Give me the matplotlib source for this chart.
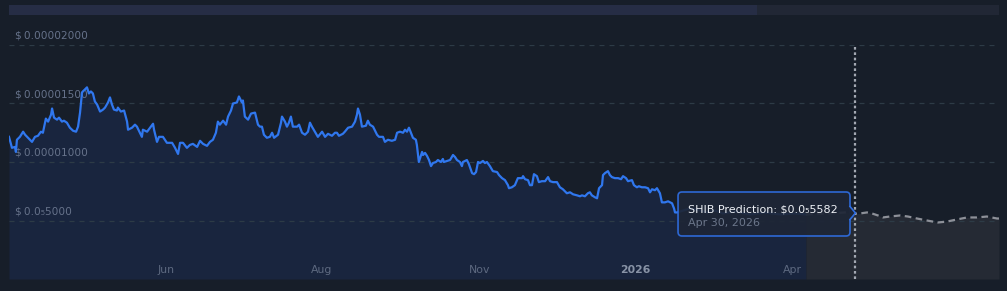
import matplotlib
matplotlib.use("Agg")
import matplotlib.pyplot as plt
from matplotlib.patches import FancyBboxPatch, Polygon

# SHIB price history (days from start, price in 1e-6 USD)
hist_day = [0.0, 1.2, 2.4, 2.8, 3.2, 4.4, 5.7, 6.5, 7.7, 9.3, 10.5, 11.7, 12.9, 13.7, 14.9, 15.8,
            17.0, 17.4, 18.2, 19.4, 20.2, 21.4, 22.2, 23.4, 24.6, 25.9, 27.1, 27.9, 28.7, 29.5,
            30.7, 31.5, 32.3, 33.1, 33.9, 34.7, 35.6, 36.8, 38.0, 38.8, 40.0, 40.8, 41.6, 42.4,
            43.6, 44.0, 45.2, 46.5, 47.7, 48.1, 49.7, 50.9, 51.7, 52.9, 53.7, 54.1, 55.8, 57.0,
            58.2, 58.6, 59.8, 60.6, 62.2, 63.8, 65.9, 67.1, 68.3, 69.1, 70.3, 71.9, 73.1, 74.3,
            76.0, 77.2, 78.4, 80.0, 81.2, 82.4, 83.6, 84.4, 85.2, 86.5, 87.7, 88.5, 89.7, 90.5,
            92.1, 92.9, 94.1, 94.5, 95.3, 96.6, 97.8, 99.4, 100.6, 101.4, 102.2, 103.0, 104.2,
            105.4, 106.3, 107.1, 108.7, 109.9, 110.3, 111.5, 112.3, 113.1, 113.9, 114.7, 116.4,
            117.2, 118.4, 119.6, 120.8, 121.6, 122.4, 123.6, 124.8, 126.5, 127.7, 128.9, 130.5,
            131.7, 132.5, 133.3, 134.9, 135.7, 137.0, 138.6, 139.8, 140.6, 141.0, 141.8, 142.6,
            144.2, 145.0, 145.8, 147.1, 148.7, 149.5, 151.1, 151.9, 153.1, 154.7, 156.0, 156.8,
            158.0, 159.2, 160.0, 160.8, 161.6, 162.4, 163.2, 164.4, 164.8, 165.6, 166.9, 167.3,
            168.1, 168.9, 169.7, 170.5, 171.3, 172.5, 173.3, 174.5, 175.3, 175.7, 177.0, 178.2,
            179.4, 180.2, 181.0, 182.2, 183.0, 183.4, 185.0, 185.8, 187.1, 187.9, 188.7, 189.5,
            190.3, 191.5, 192.3, 193.1, 194.3, 195.5, 197.2, 198.0, 199.2, 200.4, 201.6, 202.0,
            203.2, 204.4, 205.6, 207.3, 207.7, 208.5, 209.7, 210.5, 211.3, 212.1, 213.3, 214.1,
            215.3, 216.6, 217.8, 218.6, 219.8, 221.4, 222.6, 223.8, 225.4, 226.7, 227.9, 229.5,
            230.7, 231.5, 232.7, 233.9, 234.7, 235.5, 236.8, 237.6, 238.4, 239.6, 240.0, 240.8,
            242.0, 242.8, 243.6, 244.8, 246.1, 247.3, 248.1, 249.3, 250.1, 251.7, 252.5, 253.7,
            254.5, 255.7, 257.0, 258.2, 259.0, 259.8, 261.0, 261.8, 263.0, 263.8, 265.0, 266.3,
            267.9, 268.7, 269.1, 269.9, 275.1, 279.2, 282.0, 285.2, 288.5, 293.3, 299.4, 305.4,
            311.5, 317.6, 322.0]
hist_val = [12.15, 11.21, 11.29, 10.86, 11.90, 12.15, 12.59, 12.33, 12.07, 11.72, 12.15, 12.24,
            12.59, 12.50, 13.71, 13.45, 14.05, 14.57, 13.79, 13.62, 13.79, 13.45, 13.53, 13.36,
            12.93, 12.67, 12.59, 13.02, 14.22, 15.95, 16.21, 16.38, 15.86, 16.03, 15.86, 15.17,
            14.91, 14.31, 14.48, 14.65, 15.09, 15.52, 14.91, 14.48, 14.40, 14.65, 14.31, 14.40,
            13.45, 12.76, 12.93, 13.19, 13.02, 12.50, 12.15, 12.76, 12.59, 12.93, 13.27, 12.76,
            11.72, 12.15, 12.15, 11.64, 11.64, 11.21, 10.69, 11.64, 11.64, 11.21, 11.46, 11.55,
            11.29, 11.81, 11.55, 11.38, 11.72, 11.90, 12.50, 13.45, 13.19, 13.53, 13.19, 13.88,
            14.40, 15.00, 15.09, 15.60, 15.09, 15.26, 13.88, 13.62, 14.14, 14.22, 13.19, 13.02,
            13.02, 12.33, 12.07, 12.15, 12.50, 12.07, 12.33, 13.36, 13.88, 13.45, 13.02, 13.36,
            13.88, 13.02, 13.02, 13.19, 12.50, 12.33, 12.59, 13.36, 13.02, 12.59, 12.15, 12.59,
            12.15, 12.41, 12.24, 12.50, 12.50, 12.24, 12.41, 12.59, 12.93, 13.02, 13.45, 14.05,
            14.57, 14.05, 13.02, 13.10, 13.53, 13.19, 13.02, 12.33, 12.15, 12.15, 11.72, 11.90,
            11.81, 11.90, 12.50, 12.59, 12.50, 12.76, 12.59, 12.93, 12.50, 12.07, 11.90, 11.46,
            10.00, 10.86, 10.60, 10.78, 10.52, 10.17, 9.65, 9.91, 10.00, 10.17, 10.00, 10.26,
            10.00, 10.09, 10.17, 10.60, 10.43, 10.17, 10.00, 9.65, 10.00, 10.17, 9.83, 9.05,
            8.96, 9.14, 10.00, 9.91, 10.09, 9.91, 10.00, 9.65, 9.22, 9.14, 8.88, 8.62, 8.45,
            8.02, 7.76, 7.84, 8.02, 8.62, 8.62, 8.79, 8.53, 8.45, 8.02, 8.02, 8.96, 8.79, 8.28,
            8.36, 8.36, 8.71, 8.36, 8.28, 8.28, 7.84, 7.67, 7.33, 7.41, 7.24, 7.15, 7.07, 7.15,
            7.07, 7.33, 7.41, 7.15, 6.98, 6.90, 7.76, 8.02, 8.88, 9.05, 9.22, 8.88, 8.71, 8.62,
            8.62, 8.53, 8.79, 8.62, 8.36, 8.45, 8.02, 7.84, 7.93, 7.84, 7.84, 7.76, 7.41, 7.67,
            7.59, 7.76, 7.33, 6.55, 6.55, 6.64, 6.47, 6.03, 5.69, 5.69, 6.03, 5.86, 5.69, 5.86,
            5.60, 5.78, 5.52, 5.69, 5.52, 5.60, 5.52]

# forecast
fc_day = [322.0, 331.7, 337.8, 341.8, 343.8, 346.7, 348.7, 351.1, 353.1, 355.9, 360.0, 363.2,
          366.9, 370.9, 375.3, 379.0, 383.0, 387.1, 391.1, 395.1, 399.2, 400.0]
fc_val = [5.52, 5.60, 5.69, 5.582, 5.60, 5.69, 5.60, 5.43, 5.26, 5.34, 5.43, 5.34,
          5.17, 5.00, 4.83, 4.91, 5.09, 5.26, 5.26, 5.34, 5.17, 5.17]

pred_day = 341.8
pred_text = "SHIB Prediction: $0.0\u20855582"
pred_date = "Apr 30, 2026"

y_ticks = [5, 10, 15, 20]
y_labels = ["$\u20090.0\u20855000", "$\u20090.00001000", "$\u20090.00001500", "$\u20090.00002000"]
x_ticks = [63.4, 126.5, 190.3, 252.9, 316.4]
x_labels = ["Jun", "Aug", "Nov", "2026", "Apr"]
nav_end = 0.7556  # share of range shown in navigator

BG = "#171e29"
LINE = "#3077ee"
FILL = "#19253e"
FC_FILL = "#252a34"
GRID = "#2d3b46"
LABEL = "#66728a"

W, H = 1007, 291
fig = plt.figure(figsize=(W / 100, H / 100), dpi=100, facecolor=BG)

# navigator bar on top
nav = fig.add_axes([9 / W, (H - 15) / H, 990 / W, 10 / H])
nav.set_facecolor("#212735")
nav.axvspan(0, nav_end, color="#262d45", lw=0)
nav.set_xlim(0, 1)
nav.axis("off")
nav.add_patch(plt.Rectangle((0, 0), 1, 1, color="#212735", zorder=0, transform=nav.transAxes))

ax = fig.add_axes([9 / W, 12 / H, 990 / W, 234 / H])
ax.set_facecolor(BG)
ax.set_xlim(0, 400)
ax.set_ylim(0, 20)

ax.fill_between(hist_day, hist_val, 0, color=FILL, lw=0, zorder=1)
ax.fill_between(fc_day, fc_val, 0, color=FC_FILL, lw=0, zorder=1)

for v in y_ticks:
    ax.axhline(v, color=GRID, lw=0.9, ls=(0, (4, 4)), zorder=2)
for v, lab in zip(y_ticks, y_labels):
    ax.annotate(lab, xy=(0.006, v), xycoords=("axes fraction", "data"),
                xytext=(0, 3), textcoords="offset points", va="bottom", ha="left",
                color=LABEL, fontsize=7.6, annotation_clip=False)

ax.plot(hist_day, hist_val, color=LINE, lw=1.6, zorder=4, solid_joinstyle="round")
ax.plot(fc_day, fc_val, color="#8d9098", lw=1.6, ls=(0, (3, 2)), zorder=4)

ax.axvline(pred_day, color="#a3a8b2", lw=1.6, ls=(0, (1.2, 1.2)), zorder=5)

for d, lab in zip(x_ticks, x_labels):
    bold = lab == "2026"
    ax.text(d, 0.038, lab, transform=ax.get_xaxis_transform(), ha="center", va="center",
            fontsize=7.8, color="#8893a6" if bold else "#5d6980",
            fontweight="bold" if bold else "normal", zorder=6)

# tooltip
x0, x1, y0, y1 = 0.6758, 0.8495, 0.1838, 0.3718
box = FancyBboxPatch((x0, y0), x1 - x0, y1 - y0, boxstyle="round,pad=0,rounding_size=0.004",
                     mutation_aspect=4.2, transform=ax.transAxes, fc="#1e2636", ec="#2f6de0",
                     lw=1.2, alpha=0.93, zorder=7)
ax.add_patch(box)
ay = 0.282
tri = Polygon([(x1 - 0.001, ay + 0.028), (x1 + 0.0055, ay), (x1 - 0.001, ay - 0.028)],
              closed=True, transform=ax.transAxes, fc="#1e2636", ec="none", zorder=8)
ax.add_patch(tri)
ax.plot([x1, x1 + 0.0055, x1], [ay + 0.028, ay, ay - 0.028], transform=ax.transAxes,
        color="#2f6de0", lw=1.2, zorder=9)
ax.text(0.686, 0.297, pred_text, transform=ax.transAxes, color="#eef1f6", fontsize=8,
        va="center", ha="left", zorder=10)
ax.text(0.686, 0.238, pred_date, transform=ax.transAxes, color="#6b768a", fontsize=8,
        va="center", ha="left", zorder=10)

for s in ax.spines.values():
    s.set_visible(False)
ax.set_xticks([])
ax.set_yticks([])

fig.savefig("out.png", dpi=100, facecolor=BG)
